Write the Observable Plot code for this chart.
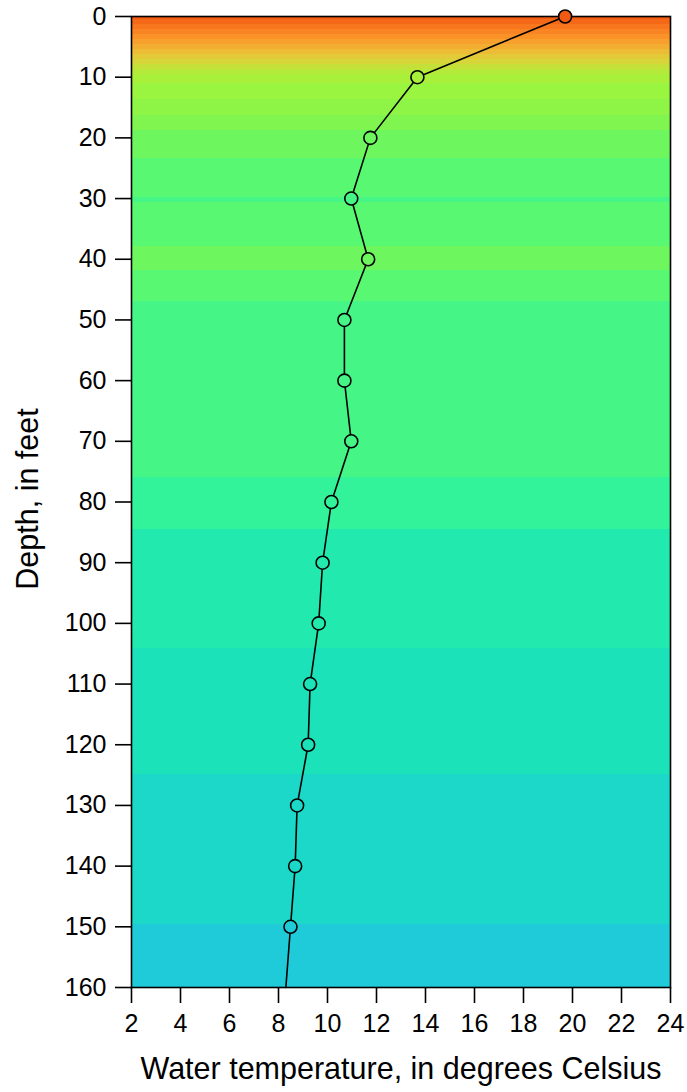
<!DOCTYPE html>
<html>
<head>
<meta charset="utf-8">
<script src="https://cdn.jsdelivr.net/npm/d3@7"></script>
<script src="https://cdn.jsdelivr.net/npm/@observablehq/plot@0.6"></script>
<style>
  html, body { margin: 0; padding: 0; background: #fff; }
  #chart svg { display: block; }
</style>
</head>
<body>
<div id="chart"></div>
<script>
// Measured profile: depth (feet) and water temperature (°C)
const depths = [0, 10, 20, 30, 40, 50, 60, 70, 80, 90, 100, 110, 120, 130, 140, 150, 160];
const temps  = [19.7, 13.67, 11.75, 10.97, 11.66, 10.69, 10.69, 10.97, 10.16, 9.8, 9.64, 9.29, 9.21, 8.76, 8.68, 8.49, 8.3];

// Axis ticks
const xTicks = [2, 4, 6, 8, 10, 12, 14, 16, 18, 20, 22, 24];
const yTicks = [0, 10, 20, 30, 40, 50, 60, 70, 80, 90, 100, 110, 120, 130, 140, 150, 160];

// Temperature colour bins (0.5 °C)
const binThresholds = [8.5, 9, 9.5, 10, 10.5, 11, 11.5, 12, 12.5, 13, 13.5, 14, 14.5, 15, 15.5, 16, 16.5, 17, 17.5, 18, 18.5, 19, 19.5];
const binColors = ["#1fcbd8", "#1bd8c8", "#1ce2ba", "#22eaae", "#32f39a", "#45f686", "#58f872", "#6ef65e",
                   "#80f550", "#8ef546", "#9af540", "#a8f03a", "#b6ea3a", "#c6e03a", "#d6d63a", "#e3ca38",
                   "#ecbc36", "#f3ae32", "#f8a02d", "#fa9228", "#f98423", "#f8761d", "#f46818", "#f05a12"];

const profile = depths.map((d, i) => ({depth: d, temp: temps[i]}));
// the last point only ends the line at the bottom of the frame (no marker)
const markers = profile.slice(0, -1);

// temperature as a function of depth along the measured profile
const tempAt = d3.scaleLinear().domain(depths).range(temps).clamp(true);
const xDom = d3.extent(xTicks);
const yDom = d3.extent(yTicks);

const font = "'Liberation Sans', Arial, Helvetica, sans-serif";

const chart = Plot.plot({
  width: 687,
  height: 1092,
  marginTop: 16,
  marginLeft: 131,
  marginRight: 17,
  marginBottom: 105,
  style: {fontFamily: font, fontSize: "25px", color: "#000", background: "#fff"},
  x: {domain: xDom, ticks: xTicks, label: null},
  y: {domain: yDom, reverse: true, ticks: yTicks, label: null},
  color: {type: "threshold", domain: binThresholds, range: binColors},
  marks: [
    Plot.raster({
      fill: (x, y) => tempAt(y),
      x1: xDom[0], x2: xDom[1], y1: yDom[0], y2: yDom[1],
      pixelSize: 1,
      imageRendering: "pixelated"
    }),
    Plot.frame({stroke: "#000", strokeWidth: 1.6}),
    Plot.axisX({ticks: xTicks, tickSize: 16, tickPadding: 11, strokeWidth: 1.6, fontSize: 25, label: null}),
    Plot.axisY({ticks: yTicks, tickSize: 16, tickPadding: 9, strokeWidth: 1.6, fontSize: 25, label: null}),
    Plot.line(profile, {x: "temp", y: "depth", stroke: "#000", strokeWidth: 1.6}),
    Plot.dot(markers, {x: "temp", y: "depth", r: 6.5, fill: "temp", stroke: "#000", strokeWidth: 1.6}),
    Plot.text(["Water temperature, in degrees Celsius"], {
      frameAnchor: "bottom", textAnchor: "middle", lineAnchor: "middle", dy: 82, fontSize: 30.5, fill: "#000"
    }),
    Plot.text(["Depth, in feet"], {
      frameAnchor: "left", textAnchor: "middle", lineAnchor: "middle", rotate: -90, dx: -103, dy: -3, fontSize: 30.5, fill: "#000"
    })
  ]
});

document.getElementById("chart").appendChild(chart);
</script>
</body>
</html>
